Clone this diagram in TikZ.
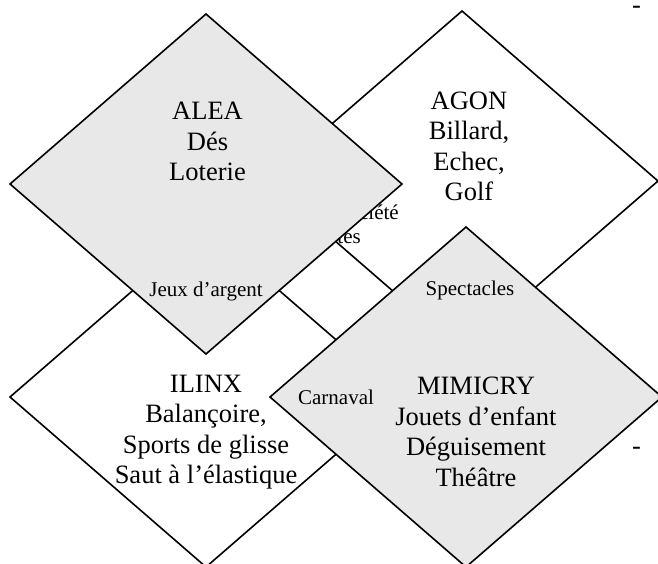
\documentclass[tikz,border=0pt]{standalone}
\usepackage{fontspec}
\setmainfont{Liberation Serif}
\definecolor{boxgray}{RGB}{232,232,232}
\begin{document}
\begin{tikzpicture}[x=1pt,y=-1pt,
  dia/.style={draw=black, line width=1.6pt, line join=miter},
  big/.style={font=\fontsize{26.5}{30.5}\selectfont, align=center, inner sep=0pt},
  small/.style={font=\fontsize{21}{24}\selectfont, align=center, inner sep=0pt},
  dashtext/.style={font=\fontsize{26.5}{30.5}\selectfont, inner sep=0pt, text height=9pt, text depth=0pt, anchor=base}]
\useasboundingbox (0,0) rectangle (658,563);
\fill[white] (0,0) rectangle (658,563);
\clip (0,0) rectangle (658,563);
% AGON (white, back)
\path[dia, fill=white] (462,11) -- (658,181) -- (462,351) -- (266,181) -- cycle;
\node[small, anchor=base east] (soc1) at (399,219) {Jeux de société};
\node[small, anchor=base east] (soc2) at (361,243) {Cartes};
\node[big] (agon) at (469,146.5) {AGON\\Billard,\\Echec,\\Golf};
% ILINX (white)
\path[dia, fill=white] (206,227) -- (402,397) -- (206,567) -- (10,397) -- cycle;
\node[big] (ilinx) at (206,432) {ILINX\\Balançoire,\\Sports de glisse\\Saut à l’élastique};
% ALEA (gray)
\path[dia, fill=boxgray] (206,14) -- (402,184) -- (206,354) -- (10,184) -- cycle;
\node[big] (alea) at (207.5,141.5) {ALEA\\Dés\\Loterie};
\node[small] (argent) at (206,291) {Jeux d’argent};
% MIMICRY (gray)
\path[dia, fill=boxgray] (466,227) -- (662,397) -- (466,567) -- (270,397) -- cycle;
\node[big] (mimicry) at (476,432) {MIMICRY\\Jouets d’enfant\\Déguisement\\Théâtre};
\node[small] (spect) at (470,290) {Spectacles};
\node[small] (carn) at (336,397) {Carnaval};
% stray dashes
\node[dashtext] (d1) at (636.5,13) {-};
\node[dashtext] (d2) at (636.5,454) {-};
\end{tikzpicture}
\end{document}
